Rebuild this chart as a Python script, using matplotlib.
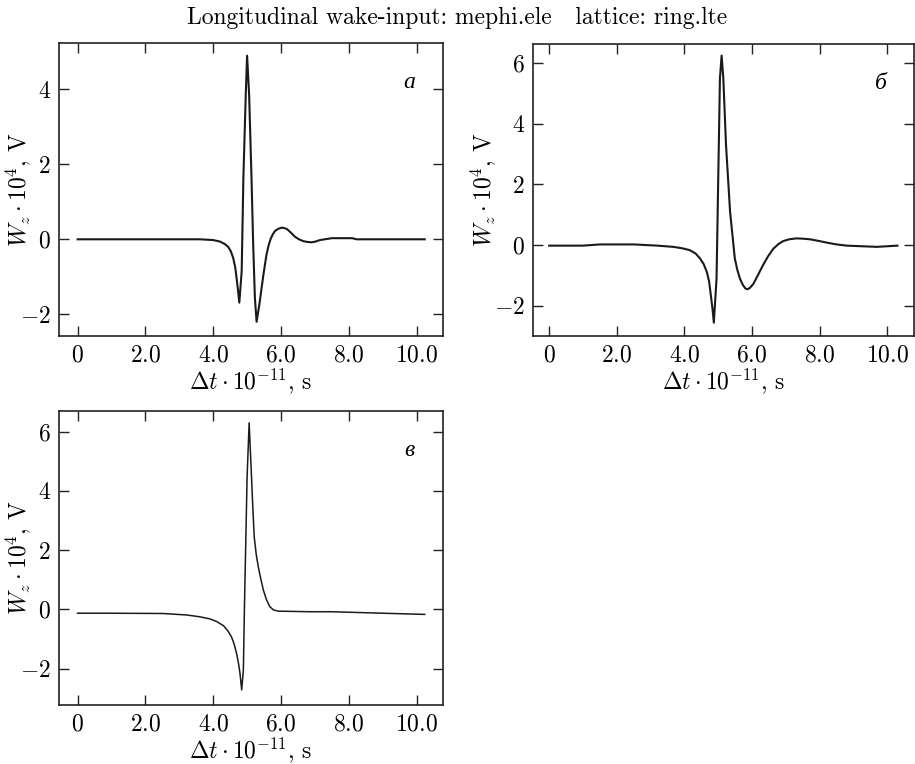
import matplotlib
matplotlib.use("Agg")
import matplotlib.pyplot as plt
from matplotlib.ticker import FixedLocator, FixedFormatter

plt.rcParams['font.family'] = ['cmr10', 'DejaVu Serif']
plt.rcParams['mathtext.fontset'] = 'cm'
plt.rcParams['axes.unicode_minus'] = False

# ---- data ----
t_a = [0.0, 1.0, 2.0, 3.0, 3.61, 4.0, 4.2, 4.35, 4.44, 4.52, 4.59, 4.65, 4.69, 4.73, 4.77,
       4.84, 4.89, 4.96, 5.0, 5.06, 5.13, 5.18, 5.23, 5.28, 5.36, 5.48, 5.57, 5.63, 5.69,
       5.75, 5.82, 5.92, 6.02, 6.1, 6.18, 6.3, 6.41, 6.53, 6.66, 6.78, 6.9, 7.02, 7.15,
       7.5, 7.8, 8.1, 8.23, 9.0, 10.24]
w_a = [0.0, 0.0, 0.0, 0.0, 0.0, -0.02, -0.06, -0.13, -0.2, -0.32, -0.5, -0.75, -1.04, -1.35, -1.69,
       -0.86, 1.63, 3.85, 4.9, 3.85, 1.63, -0.15, -1.57, -2.2, -1.75, -0.95, -0.42, -0.18, 0.0,
       0.12, 0.22, 0.28, 0.31, 0.3, 0.27, 0.17, 0.07, 0.0, -0.05, -0.07, -0.08, -0.06, -0.02,
       0.03, 0.03, 0.03, 0.0, 0.0, 0.0]

t_b = [0.0, 1.0, 1.5, 2.5, 3.2, 3.67, 3.95, 4.16, 4.33, 4.46, 4.57, 4.66, 4.73, 4.78, 4.83,
       4.87, 4.95, 5.0, 5.05, 5.1, 5.15, 5.23, 5.35, 5.49, 5.56, 5.64, 5.72, 5.8, 5.86,
       5.93, 6.04, 6.18, 6.33, 6.48, 6.63, 6.78, 6.92, 7.1, 7.32, 7.5, 7.71, 7.95, 8.21,
       8.5, 8.8, 9.69, 10.3]
w_b = [-0.02, -0.02, 0.02, 0.02, -0.02, -0.06, -0.11, -0.17, -0.28, -0.44, -0.63, -0.88, -1.2, -1.65, -2.1,
       -2.56, -1.1, 2.2, 5.5, 6.25, 5.5, 3.3, 1.1, -0.44, -0.8, -1.1, -1.3, -1.43, -1.46,
       -1.42, -1.28, -0.98, -0.65, -0.36, -0.12, 0.03, 0.13, 0.19, 0.22, 0.21, 0.19, 0.14, 0.08,
       0.02, -0.02, -0.06, -0.02]

t_c = [0.0, 1.0, 2.53, 3.22, 3.6, 3.9, 4.1, 4.3, 4.43, 4.54, 4.62, 4.69, 4.75, 4.79, 4.84,
       4.89, 4.92, 4.96, 5.0, 5.06, 5.13, 5.17, 5.21, 5.27, 5.33, 5.4, 5.48, 5.57, 5.67,
       5.78, 5.92, 6.85, 7.5, 9.0, 10.24]
w_c = [-0.13, -0.13, -0.14, -0.19, -0.25, -0.32, -0.41, -0.55, -0.72, -0.93, -1.18, -1.49, -1.85, -2.16, -2.72,
       -2.05, -0.02, 2.23, 4.48, 6.3, 4.48, 3.4, 2.45, 1.85, 1.44, 1.05, 0.65, 0.33, 0.09,
       -0.02, -0.06, -0.08, -0.08, -0.13, -0.17]

xticks = [0, 2, 4, 6, 8, 10]
xticklabels = ['$0$', '$2.0$', '$4.0$', '$6.0$', '$8.0$', '$10.0$']
yticks_a = [-2, 0, 2, 4]
yticks_bc = [-2, 0, 2, 4, 6]
panel_labels = ['а', 'б', 'в']
title = 'Longitudinal wake-input: mephi.ele   lattice: ring.lte'

W, H = 915, 764
fig = plt.figure(figsize=(W / 100, H / 100), dpi=100)

def rect(l, t, r, b):
    return [l / W, 1 - b / H, (r - l) / W, (b - t) / H]

axes_specs = [
    (rect(59.3, 43.3, 442.7, 336), t_a, w_a, yticks_a, (-0.54, 10.77), (-2.58, 5.23), -0.069),
    (rect(533.3, 44, 914, 336), t_b, w_b, yticks_bc, (-0.47, 10.79), (-3.0, 6.63), -0.093),
    (rect(59.3, 410.7, 442.7, 705), t_c, w_c, yticks_bc, (-0.54, 10.77), (-3.23, 6.71), -0.069),
]

fs = 17
for i, (r, t, w, yt, xl, yl, ylx) in enumerate(axes_specs):
    ax = fig.add_axes(r)
    ax.plot(t, w, color='#1a1a1a', lw=1.5 if i < 2 else 1.1)
    ax.set_xlim(*xl)
    ax.set_ylim(*yl)
    ax.xaxis.set_major_locator(FixedLocator(xticks))
    ax.xaxis.set_major_formatter(FixedFormatter(xticklabels))
    ax.yaxis.set_major_locator(FixedLocator(yt))
    ax.yaxis.set_major_formatter(FixedFormatter(['$%d$' % v for v in yt]))
    ax.tick_params(direction='in', top=True, right=True, length=7, width=1.0,
                   labelsize=fs, pad=6, color='#222222')
    for s in ax.spines.values():
        s.set_linewidth(1.2)
        s.set_color('#222222')
    ax.set_xlabel(r'$\Delta t\cdot 10^{-11}$, s', fontsize=fs, labelpad=0)
    ax.set_ylabel(r'$W_z\cdot 10^{4}$, V', fontsize=fs)
    ax.yaxis.set_label_coords(ylx, 0.5)
    ax.text(0.913, 0.865, panel_labels[i], transform=ax.transAxes, fontsize=17,
            family=['Liberation Serif'], style='italic', ha='center', va='center')

fig.text(0.5, 1 - 18 / H, title, ha='center', va='center', fontsize=fs)

fig.savefig('out.png', dpi=100)
